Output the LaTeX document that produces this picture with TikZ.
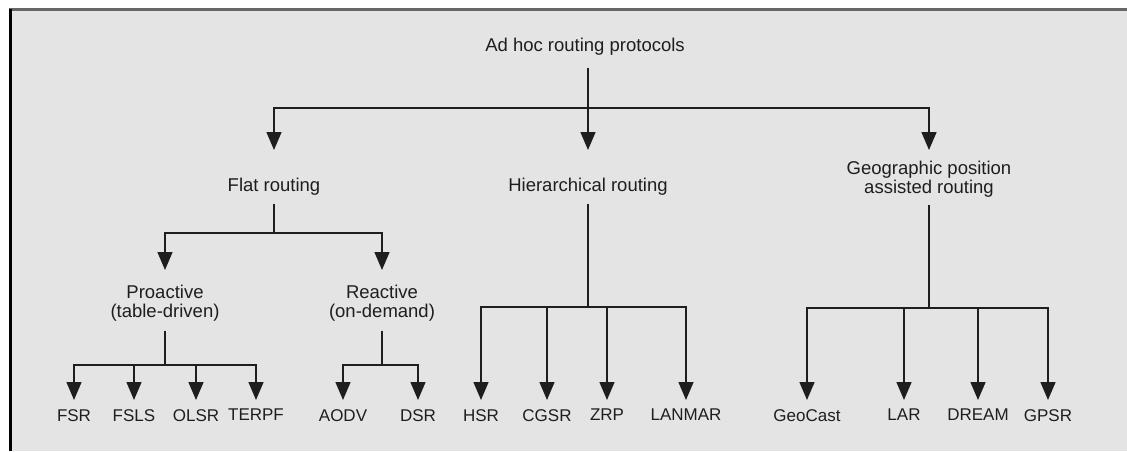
\documentclass[tikz,border=0pt]{standalone}
\usepackage{fontspec}
\setmainfont{Liberation Sans}
\usetikzlibrary{arrows.meta}
\definecolor{bg}{HTML}{E4E4E4}
\definecolor{ink}{HTML}{1E1E1E}
\definecolor{topline}{HTML}{666666}
\begin{document}
\begin{tikzpicture}[x=1pt,y=-1pt,
  lbl/.style={inner sep=0pt, text=ink, font=\fontsize{18.5}{19}\selectfont, align=center, anchor=north},
  leaf/.style={inner sep=0pt, text=ink, font=\fontsize{17}{19}\selectfont, anchor=north},
  wire/.style={draw=ink, line width=1.5pt},
  arr/.style={wire, -{Triangle[width=15pt,length=18pt]}},
  gapin/.style={shorten >=#1},
  gapout/.style={shorten <=#1}
]
\useasboundingbox (0,0) rectangle (1127,451);
\fill[white] (0,0) rectangle (1127,451);
\fill[bg] (10,9) rectangle (1127,451);
\draw[topline, line width=2.5pt] (9,9.5) -- (1127,9.5);
\draw[black, line width=3pt] (10.7,8.5) -- (10.7,451);

% nodes
\node[lbl] (root) at (585,38) {Ad hoc routing protocols};
\node[lbl] (flat) at (274,178) {Flat routing};
\node[lbl] (hier) at (588,178) {Hierarchical routing};
\node[lbl] (geo) at (929,161) {Geographic position\\assisted routing};
\node[lbl] (pro) at (165,285) {Proactive\\(table-driven)};
\node[lbl] (rea) at (382,285) {Reactive\\(on-demand)};

\node[leaf] (fsr) at (74,409) {FSR};
\node[leaf] (fsls) at (134,409) {FSLS};
\node[leaf] (olsr) at (196,409) {OLSR};
\node[leaf] (terpf) at (256,409) {TERPF};
\node[leaf] (aodv) at (343,409) {AODV};
\node[leaf] (dsr) at (418,409) {DSR};
\node[leaf] (hsr) at (481,409) {HSR};
\node[leaf] (cgsr) at (547,409) {CGSR};
\node[leaf] (zrp) at (607,409) {ZRP};
\node[leaf] (lanmar) at (686,409) {LANMAR};
\node[leaf] (geocast) at (807,409) {GeoCast};
\node[leaf] (lar) at (904,409) {LAR};
\node[leaf] (dream) at (978,409) {DREAM};
\node[leaf] (gpsr) at (1048,409) {GPSR};

% junctions
\coordinate (rootj) at (588,108);
\coordinate (flatj) at (274,233);
\coordinate (hierj) at (588,307);
\coordinate (geoj) at (929,308);
\coordinate (proj) at (165,365);
\coordinate (reaj) at (382,365);

% root
\draw[wire, gapout=12pt] (root.south -| rootj) -- (rootj);
\draw[arr, gapin=28pt] (rootj) -| (flat.north);
\draw[arr, gapin=28pt] (rootj) -| (hier.north);
\draw[arr, gapin=11pt] (rootj) -| (geo.north);

% flat
\draw[wire, gapout=8pt] (flat.south) -- (flatj);
\draw[arr, gapin=15pt] (flatj) -| (pro.north);
\draw[arr, gapin=15pt] (flatj) -| (rea.north);

% proactive
\draw[wire, gapout=9pt] (pro.south) -- (proj);
\foreach \c in {fsr,fsls,olsr,terpf}
  \draw[arr, gapin=9pt] (proj) -| (\c.north);

% reactive
\draw[wire, gapout=9pt] (rea.south) -- (reaj);
\foreach \c in {aodv,dsr}
  \draw[arr, gapin=9pt] (reaj) -| (\c.north);

% hierarchical
\draw[wire, gapout=8pt] (hier.south) -- (hierj);
\foreach \c in {hsr,cgsr,zrp,lanmar}
  \draw[arr, gapin=9pt] (hierj) -| (\c.north);

% geographic
\draw[wire, gapout=7pt] (geo.south) -- (geoj);
\foreach \c in {geocast,lar,dream,gpsr}
  \draw[arr, gapin=9pt] (geoj) -| (\c.north);
\end{tikzpicture}
\end{document}
